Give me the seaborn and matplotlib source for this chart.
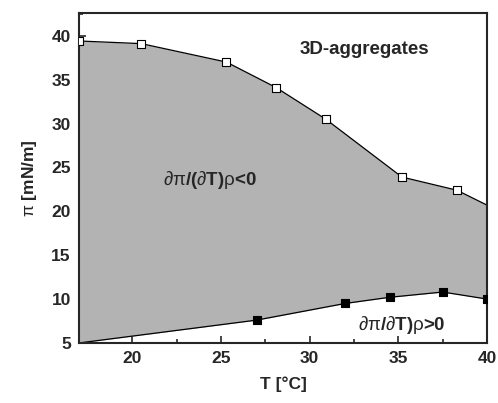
import numpy as np
import matplotlib
matplotlib.use("Agg")
import matplotlib.pyplot as plt
import seaborn as sns
from matplotlib.ticker import MultipleLocator

# upper boundary (open squares), last point is only the line end at the frame
upper_T = [17.0, 20.5, 25.3, 28.1, 30.9, 35.2, 38.3, 40.0]
upper_pi = [39.4, 39.1, 37.0, 34.1, 30.5, 23.9, 22.4, 20.7]
# lower boundary (filled squares), first point is only the line start
lower_T = [17.0, 27.0, 32.0, 34.5, 37.5, 40.0]
lower_pi = [5.0, 7.6, 9.5, 10.2, 10.8, 10.0]

sns.set_style("ticks")
plt.rcParams['font.family'] = ['Liberation Sans', 'DejaVu Sans']
plt.rcParams['mathtext.fontset'] = 'custom'
plt.rcParams['mathtext.rm'] = 'Liberation Sans'
plt.rcParams['mathtext.bf'] = 'Liberation Sans:bold'
plt.rcParams['mathtext.it'] = 'Liberation Sans'

fig = plt.figure(figsize=(4.98, 4.03), dpi=100)
ax = fig.add_axes([0.159, 0.149, 0.819, 0.819])

# grey region between the two boundaries
grid = np.union1d(upper_T, lower_T)
ax.fill_between(grid, np.interp(grid, lower_T, lower_pi), np.interp(grid, upper_T, upper_pi),
                color='#b3b3b3', linewidth=0, zorder=1)

sns.lineplot(x=upper_T, y=upper_pi, ax=ax, color='black', linewidth=0.9, zorder=2, sort=False)
sns.lineplot(x=lower_T, y=lower_pi, ax=ax, color='black', linewidth=0.9, zorder=2, sort=False)
sns.scatterplot(x=upper_T[:-1], y=upper_pi[:-1], ax=ax, marker='s', s=32, color='white',
                edgecolor='black', linewidth=0.8, zorder=3)
sns.scatterplot(x=lower_T[1:], y=lower_pi[1:], ax=ax, marker='s', s=32, color='black',
                edgecolor='black', linewidth=0.8, zorder=3)

ax.set_xlim(17, 40)
ax.set_ylim(5, 42.6)
ax.xaxis.set_major_locator(MultipleLocator(5))
ax.xaxis.set_minor_locator(MultipleLocator(2.5))
ax.yaxis.set_major_locator(MultipleLocator(5))
ax.yaxis.set_minor_locator(MultipleLocator(2.5))
ax.tick_params(which='both', direction='in', top=False, right=False, width=1.2)
ax.tick_params(which='major', length=5, labelsize=12.5, pad=6)
ax.tick_params(which='minor', length=3)
for lab in ax.get_xticklabels() + ax.get_yticklabels():
    lab.set_fontweight('bold')
for sp in ax.spines.values():
    sp.set_linewidth(1.5)
    sp.set_visible(True)

ax.set_xlabel('T [°C]', fontsize=12.5, fontweight='bold', labelpad=7)
ax.set_ylabel(r'$\mathrm{\pi}$ [mN/m]', fontsize=12.5, fontweight='bold', labelpad=9)

ax.text(33.1, 38.4, '3D-aggregates', fontsize=13.5, fontweight='bold', ha='center', va='center')
ax.text(24.4, 23.6, r'$\mathrm{\partial\pi}$/($\mathrm{\partial}$' + r'$\mathbf{T)}\mathrm{\rho}$' + '<0',
        fontsize=13.5, fontweight='bold', ha='center', va='center')
ax.text(35.2, 7.0, r'$\mathrm{\partial\pi}$/$\mathrm{\partial}$' + r'$\mathbf{T)}\mathrm{\rho}$' + '>0',
        fontsize=13.5, fontweight='bold', ha='center', va='center')

plt.savefig("out.png", dpi=100)
